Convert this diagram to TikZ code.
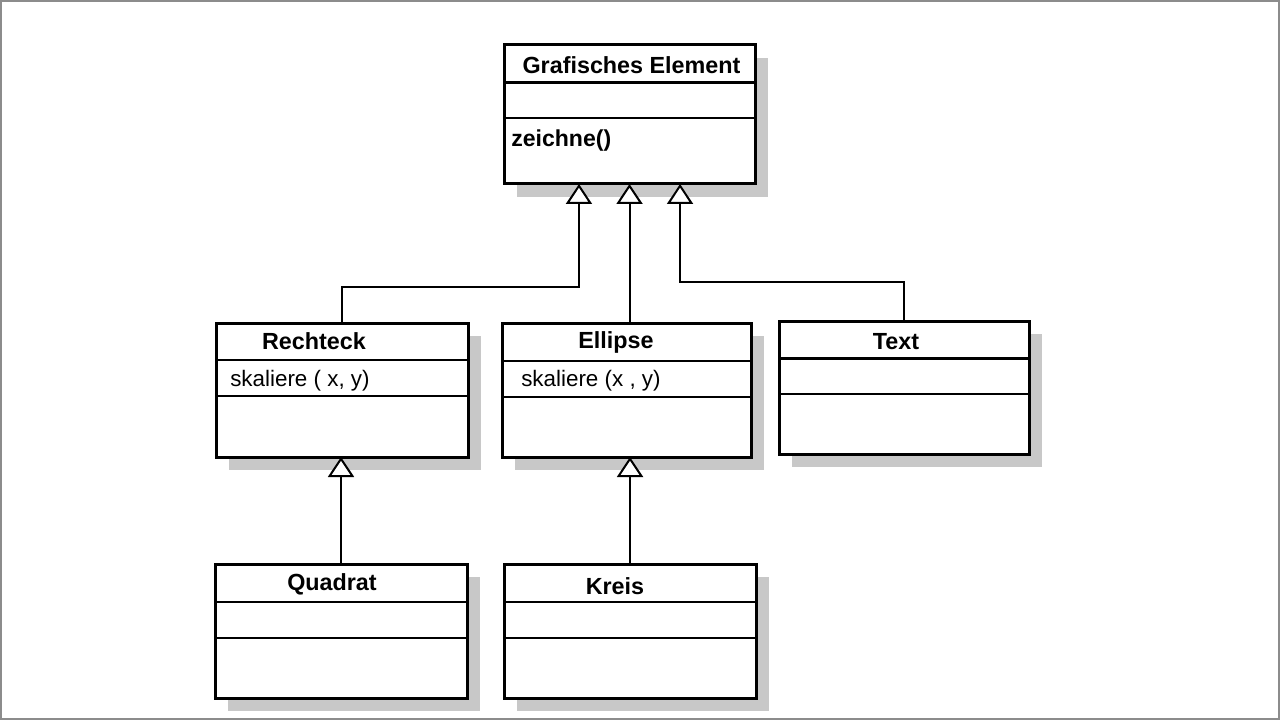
\documentclass[tikz,border=0pt]{standalone}
\usepackage{fontspec}
\setmainfont{Liberation Sans}
\usetikzlibrary{arrows.meta,shadows}
\definecolor{shadowgray}{RGB}{200,200,200}
\definecolor{framegray}{RGB}{140,140,140}
\begin{document}
\begin{tikzpicture}[x=0.75pt,y=-0.75pt,
  cls/.style={draw=black, line width=2.25pt, fill=white, rectangle, inner sep=0pt, outer sep=0pt,
    anchor=north west, drop shadow={shadow xshift=9.75pt, shadow yshift=-9.75pt, fill=shadowgray, opacity=1}},
  div/.style={line width=1.5pt},
  thickdiv/.style={line width=2.25pt},
  title/.style={font=\fontsize{17.5}{20}\selectfont\bfseries, anchor=base, inner sep=0pt},
  member/.style={font=\fontsize{16.8}{20}\selectfont, anchor=base west, inner sep=0pt},
  boldmember/.style={font=\fontsize{17.3}{20}\selectfont\bfseries, anchor=base west, inner sep=0pt},
  gen/.style={line width=1.5pt, -{Triangle[fill=white, length=15pt, width=19.5pt]}},
]
\useasboundingbox (0,0) rectangle (1280,720);
\draw[framegray, line width=1.5pt] (1,1) rectangle (1279,718.5);

% classes
\node[cls, minimum width=188.25pt, minimum height=104.25pt] (ge) at (504,45) {};
\draw[thickdiv] (ge.west |- 0,83) -- (ge.east |- 0,83);
\draw[div] (ge.west |- 0,118) -- (ge.east |- 0,118);
\node[title] (ge-t) at (631.5,73.3) {Grafisches Element};
\node[boldmember] (ge-m) at (511,147) {zeichne()};

\node[cls, minimum width=189pt, minimum height=100.5pt] (rechteck) at (216,323) {};
\draw[div] (rechteck.west |- 0,360) -- (rechteck.east |- 0,360);
\draw[div] (rechteck.west |- 0,396) -- (rechteck.east |- 0,396);
\node[title] (rechteck-t) at (314,349) {Rechteck};
\node[member] (rechteck-m) at (230,386) {skaliere ( x, y)};

\node[cls, minimum width=186.75pt, minimum height=100.5pt] (ellipse) at (502,323) {};
\draw[div] (ellipse.west |- 0,361) -- (ellipse.east |- 0,361);
\draw[div] (ellipse.west |- 0,397) -- (ellipse.east |- 0,397);
\node[title] (ellipse-t) at (616,348) {Ellipse};
\node[member] (ellipse-m) at (521,386) {skaliere (x , y)};

\node[cls, minimum width=187.5pt, minimum height=99.75pt] (txt) at (779,321) {};
\draw[thickdiv] (txt.west |- 0,358) -- (txt.east |- 0,358);
\draw[div] (txt.west |- 0,394) -- (txt.east |- 0,394);
\node[title] (txt-t) at (896,349) {Text};

\node[cls, minimum width=189pt, minimum height=100.5pt] (quadrat) at (215,564) {};
\draw[div] (quadrat.west |- 0,602) -- (quadrat.east |- 0,602);
\draw[div] (quadrat.west |- 0,638) -- (quadrat.east |- 0,638);
\node[title] (quadrat-t) at (332,590) {Quadrat};

\node[cls, minimum width=189pt, minimum height=100.5pt] (kreis) at (504,564) {};
\draw[div] (kreis.west |- 0,602) -- (kreis.east |- 0,602);
\draw[div] (kreis.west |- 0,638) -- (kreis.east |- 0,638);
\node[title] (kreis-t) at (615,594) {Kreis};

% generalisations
\draw[gen] (rechteck.north) -- (rechteck.north |- 0,287) -| ([xshift=-37.9pt]ge.south);
\draw[gen] (ge.south |- ellipse.north) -- (ge.south);
\draw[gen] (txt.north) -- (txt.north |- 0,282) -| ([xshift=37.9pt]ge.south);
\draw[gen] (quadrat.north) -- (quadrat.north |- rechteck.south);
\draw[gen] (kreis.north) -- (kreis.north |- ellipse.south);
\end{tikzpicture}
\end{document}
